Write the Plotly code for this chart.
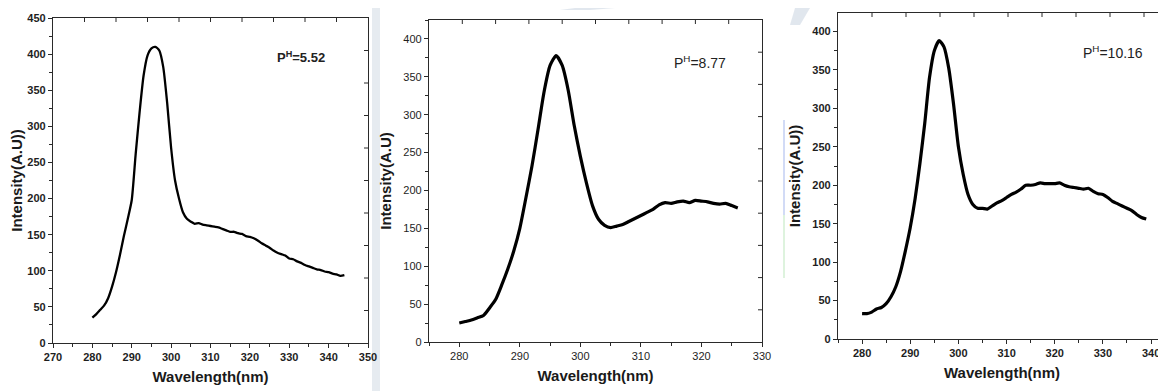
import plotly.graph_objects as go

# ---------------- data ----------------
wl_552 = [280, 281, 282, 283, 284, 285, 286, 287, 288, 289, 290, 291, 292, 293, 294, 295, 296,
          297, 298, 299, 300, 301, 302, 303, 304, 305, 306, 307, 308, 309, 310, 311, 312, 313,
          314, 315, 316, 317, 318, 319, 320, 321, 322, 323, 324, 325, 326, 327, 328, 329, 330,
          331, 332, 333, 334, 335, 336, 337, 338, 339, 340, 341, 342, 343, 344]
int_552 = [35, 40, 46, 52, 62, 78, 98, 122, 148, 172, 198, 262, 320, 370, 398, 408, 410,
           405, 382, 332, 270, 225, 200, 181, 172, 168, 165, 166, 164, 163, 162, 161, 160, 158,
           156, 154, 154, 152, 151, 148, 147, 145, 142, 138, 135, 132, 128, 125, 123, 121, 117,
           116, 113, 111, 108, 106, 104, 102, 101, 99, 98, 96, 95, 93, 94]

wl_877 = [280, 281, 282, 283, 284, 285, 286, 287, 288, 289, 290, 291, 292, 293, 294, 295, 296,
          297, 298, 299, 300, 301, 302, 303, 304, 305, 306, 307, 308, 309, 310, 311, 312, 313,
          314, 315, 316, 317, 318, 319, 320, 321, 322, 323, 324, 325, 326]
int_877 = [25, 27, 29, 32, 35, 45, 56, 75, 96, 120, 150, 190, 232, 280, 330, 365, 378,
           365, 332, 285, 245, 210, 180, 162, 154, 151, 153, 155, 159, 163, 167, 171, 175, 181,
           184, 183, 185, 186, 184, 187, 186, 185, 183, 182, 183, 180, 177]

wl_1016 = [280, 281, 282, 283, 284, 285, 286, 287, 288, 289, 290, 291, 292, 293, 294, 295, 296,
           297, 298, 299, 300, 301, 302, 303, 304, 305, 306, 307, 308, 309, 310, 311, 312, 313,
           314, 315, 316, 317, 318, 319, 320, 321, 322, 323, 324, 325, 326, 327, 328, 329, 330,
           331, 332, 333, 334, 335, 336, 337, 338, 339]
int_1016 = [33, 33, 35, 39, 41, 46, 55, 68, 88, 115, 145, 182, 228, 280, 340, 375, 388,
            380, 352, 305, 250, 214, 188, 175, 170, 170, 169, 173, 177, 180, 184, 188, 191, 195,
            200, 200, 201, 203, 202, 202, 202, 203, 200, 198, 197, 196, 195, 196, 192, 189, 188,
            184, 179, 176, 173, 170, 167, 162, 158, 156]

labels = ["P<sup>H</sup>=5.52", "P<sup>H</sup>=8.77", "P<sup>H</sup>=10.16"]
ytitles = ["Intensity(A.U))", "Intensity(A.U)", "Intensity(A.U))"]
xtitle = "Wavelength(nm)"

# page body has an 8px margin; the figure is sized so it exactly fills the window
OFF = 8
W, H = 1166 - OFF, 391 - OFF
NARROW = "Liberation Sans Narrow, Arial Narrow, Arial"
ARIAL = "Liberation Sans, Arial"
AX = "#2a2a2a"

def px(x):
    return (x - OFF) / W

def py(y):
    return 1 - (y - OFF) / H

# reference pixel boxes: left, right, top, bottom
boxes = [(53, 368, 18, 343), (429, 762, 20, 342), (838, 1166, 13, 339)]
xranges = [[270, 350], [275, 330], [275, 343.1]]
yranges = [[0, 450], [0, 425], [0, 424]]
tickbold = [True, False, True]
top_step_px = [31.5, 33.3, 34.0]     # spacing of the frame ticks on the top edge
right_step_px = [32.5, 32.2, None]   # spacing of the frame ticks on the right edge

fig = go.Figure()
series = [(wl_552, int_552, 2.3), (wl_877, int_877, 3.2), (wl_1016, int_1016, 3.2)]
for i, (xs, ys, lw) in enumerate(series):
    n = "" if i == 0 else str(i + 1)
    fig.add_trace(go.Scatter(x=xs, y=ys, mode="lines",
                             line=dict(color="black", width=lw, shape="spline", smoothing=0.6),
                             xaxis="x" + n, yaxis="y" + n, showlegend=False))

layout = dict(width=W, height=H, margin=dict(l=0, r=0, t=0, b=0, autoexpand=False),
              paper_bgcolor="white", plot_bgcolor="rgba(0,0,0,0)", showlegend=False)

shapes = []
# faint background watermark of the source page
wm = "rgba(170,185,205,0.35)"
shapes.append(dict(type="rect", xref="paper", yref="paper", x0=px(372), x1=px(380),
                   y0=0, y1=1, fillcolor="rgba(200,210,222,0.45)", line=dict(width=0), layer="below"))
shapes.append(dict(type="path", xref="paper", yref="paper", layer="below",
                   path="M %f %f L %f %f L %f %f L %f %f Z" % (px(395), py(8), px(408), py(8),
                                                            px(420), 1, px(404), 1),
                   fillcolor=wm, line=dict(width=0)))
shapes.append(dict(type="path", xref="paper", yref="paper", layer="below",
                   path="M %f %f L %f %f L %f %f L %f %f Z" % (px(560), py(10), px(590), py(10),
                                                            px(615), 1, px(575), 1),
                   fillcolor=wm, line=dict(width=0)))
shapes.append(dict(type="path", xref="paper", yref="paper", layer="below",
                   path="M %f %f L %f %f L %f %f L %f %f Z" % (px(790), py(25), px(800), py(25),
                                                            px(810), 1, px(795), 1),
                   fillcolor=wm, line=dict(width=0)))
shapes.append(dict(type="line", xref="paper", yref="paper", x0=px(784), x1=px(784),
                   y0=py(215), y1=py(120), line=dict(color="rgba(180,195,240,0.6)", width=2),
                   layer="below"))
shapes.append(dict(type="line", xref="paper", yref="paper", x0=px(784), x1=px(784),
                   y0=py(278), y1=py(215), line=dict(color="rgba(200,235,200,0.6)", width=2),
                   layer="below"))

for i in range(3):
    l, r, t, b = boxes[i]
    n = "" if i == 0 else str(i + 1)
    bold = tickbold[i]
    tfont = dict(family=NARROW, size=11, color="#1e1e1e",
                 weight="bold" if bold else "normal")
    layout["xaxis" + n] = dict(
        domain=[px(l), min(px(r), 1.0)], range=xranges[i], anchor="y" + n, automargin=False,
        tickmode="linear", tick0=280, dtick=10, ticks="outside", ticklen=4,
        tickwidth=1, tickcolor=AX, showline=True, linecolor=AX, linewidth=1.2, mirror=True,
        showgrid=False, zeroline=False, tickfont=tfont,
        minor=dict(ticks="outside", ticklen=2.5, dtick=5, tick0=275, tickcolor=AX, showgrid=False),
        title=dict(text="<b>" + xtitle + "</b>", standoff=9,
                   font=dict(family=NARROW, size=15, color="#1a1a1a")))
    layout["yaxis" + n] = dict(
        domain=[py(b), py(t)], range=yranges[i], anchor="x" + n, automargin=False,
        tickmode="linear", tick0=0, dtick=50, ticks="outside", ticklen=4,
        tickwidth=1, tickcolor=AX, showline=True, linecolor=AX, linewidth=1.2,
        mirror=right_step_px[i] is not None,
        showgrid=False, zeroline=False, tickfont=tfont,
        minor=dict(ticks="outside", ticklen=2.5, dtick=25, tick0=0, tickcolor=AX, showgrid=False),
        title=dict(text="<b>" + ytitles[i] + "</b>", standoff=8,
                   font=dict(family=ARIAL, size=15, color="#1a1a1a")))
    # inward frame ticks on top and right edges
    wpx = (min(r, 1166) - l)
    hpx = (b - t)
    k = 1
    while k * top_step_px[i] < wpx - 2:
        fx = k * top_step_px[i] / wpx
        shapes.append(dict(type="line", xref="x" + n + " domain", yref="y" + n + " domain",
                           x0=fx, x1=fx, y0=1, y1=1 - 4.0 / hpx, line=dict(color=AX, width=1)))
        k += 1
    if right_step_px[i]:
        k = 1
        while k * right_step_px[i] < hpx - 2:
            fy = k * right_step_px[i] / hpx
            shapes.append(dict(type="line", xref="x" + n + " domain", yref="y" + n + " domain",
                               x0=1, x1=1 - 4.0 / wpx, y0=fy, y1=fy,
                               line=dict(color=AX, width=1)))
            k += 1

annots = []
ann_pos = [(301, 57, True), (700, 62, False), (1113, 52, False)]
for (ax_, ay_, bold), txt in zip(ann_pos, labels):
    annots.append(dict(x=px(ax_), y=py(ay_), xref="paper", yref="paper", showarrow=False,
                       text=("<b>" + txt + "</b>") if bold else txt,
                       font=dict(family=NARROW, size=13 if bold else 14, color="#222"),
                       xanchor="center", yanchor="middle"))
layout["annotations"] = annots
layout["shapes"] = shapes

fig.update_layout(**layout)
fig.write_html("out.html")
